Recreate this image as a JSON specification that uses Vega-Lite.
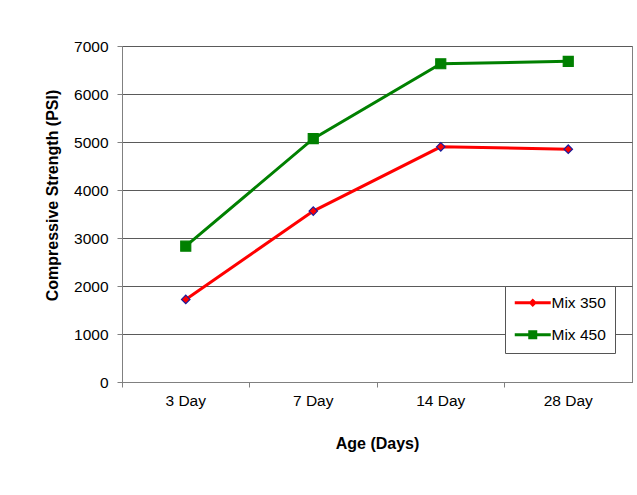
{
  "$schema": "https://vega.github.io/schema/vega-lite/v6.json",
  "width": 510,
  "height": 336,
  "autosize": {"type": "none"},
  "padding": {"left": 122, "top": 46, "right": 5, "bottom": 113},
  "background": "#ffffff",
  "config": {
    "font": "Liberation Sans",
    "view": {"stroke": "#808080", "strokeWidth": 1},
    "axis": {
      "labelFont": "Liberation Sans",
      "titleFont": "Liberation Sans",
      "labelFontSize": 15.5,
      "titleFontSize": 16,
      "labelColor": "#000000",
      "titleColor": "#000000",
      "titleFontWeight": "bold",
      "domainColor": "#808080",
      "tickColor": "#808080",
      "tickSize": 5
    }
  },
  "data": {
    "values": [
      {"age": "3 Day", "mix": "Mix 350", "psi": 1720},
      {"age": "7 Day", "mix": "Mix 350", "psi": 3560},
      {"age": "14 Day", "mix": "Mix 350", "psi": 4900},
      {"age": "28 Day", "mix": "Mix 350", "psi": 4850},
      {"age": "3 Day", "mix": "Mix 450", "psi": 2830},
      {"age": "7 Day", "mix": "Mix 450", "psi": 5070},
      {"age": "14 Day", "mix": "Mix 450", "psi": 6630},
      {"age": "28 Day", "mix": "Mix 450", "psi": 6680}
    ]
  },
  "encoding": {
    "x": {
      "field": "age",
      "type": "ordinal",
      "sort": ["3 Day", "7 Day", "14 Day", "28 Day"],
      "scale": {"type": "band", "paddingInner": 0, "paddingOuter": 0},
      "axis": {
        "title": "Age (Days)",
        "labelAngle": 0,
        "bandPosition": 0,
        "grid": false,
        "labelPadding": 6,
        "titlePadding": 27
      }
    },
    "y": {
      "field": "psi",
      "type": "quantitative",
      "scale": {"domain": [0, 7000], "nice": false},
      "axis": {
        "title": "Compressive Strength (PSI)",
        "values": [0, 1000, 2000, 3000, 4000, 5000, 6000, 7000],
        "format": "d",
        "grid": true,
        "gridColor": "#5a5a5a",
        "gridWidth": 1,
        "labelPadding": 9,
        "titlePadding": 13,
        "titleY": 149
      }
    }
  },
  "layer": [
    {
      "mark": {"type": "line", "strokeWidth": 3},
      "encoding": {
        "color": {
          "field": "mix",
          "type": "nominal",
          "scale": {"domain": ["Mix 350", "Mix 450"], "range": ["#ff0000", "#008000"]},
          "legend": {
            "title": null,
            "orient": "none",
            "legendX": 383,
            "legendY": 240,
            "padding": 9,
            "rowPadding": 15,
            "fillColor": "#ffffff",
            "strokeColor": "#555555",
            "symbolSize": 100,
            "symbolOffset": 11,
            "labelOffset": 11,
            "labelFont": "Liberation Sans",
            "labelFontSize": 15.5,
            "labelColor": "#000000",
            "encode": {
              "symbols": {
                "update": {
                  "shape": {"signal": "datum.value === 'Mix 350' ? 'M-3.6,-0.3H3.6V0.3H-3.6Z M0,-0.85L0.85,0L0,0.85L-0.85,0Z' : 'M-3.6,-0.3H3.6V0.3H-3.6Z M-0.9,-0.9H0.9V0.9H-0.9Z'"},
                  "fill": {"signal": "datum.value === 'Mix 350' ? '#ff0000' : '#008000'"},
                  "fillOpacity": {"value": 1},
                  "strokeWidth": {"value": 0}
                }
              }
            }
          }
        }
      }
    },
    {
      "mark": {"type": "point", "filled": true, "opacity": 1},
      "encoding": {
        "shape": {"condition": {"test": "datum.mix === 'Mix 350'", "value": "diamond"}, "value": "square"},
        "size": {"condition": {"test": "datum.mix === 'Mix 350'", "value": 72}, "value": 100},
        "fill": {"condition": {"test": "datum.mix === 'Mix 350'", "value": "#ff0000"}, "value": "#008000"},
        "stroke": {"condition": {"test": "datum.mix === 'Mix 350'", "value": "#1c1c9c"}, "value": "#008000"},
        "strokeWidth": {"value": 1.2}
      }
    }
  ]
}
